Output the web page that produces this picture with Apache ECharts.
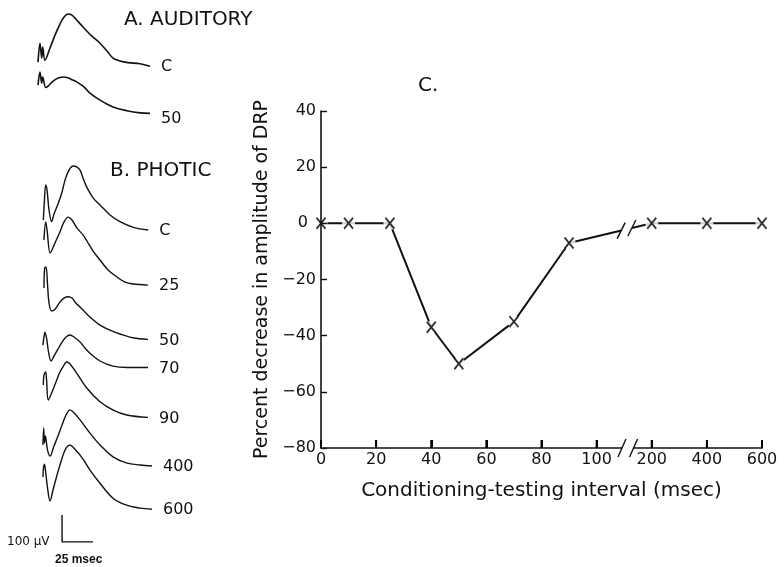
<!DOCTYPE html>
<html><head><meta charset="utf-8">
<script src="https://cdn.jsdelivr.net/npm/echarts@6/dist/echarts.min.js"></script>
<style>html,body{margin:0;padding:0;background:#fff}#c{width:784px;height:567px}</style>
</head><body><div id="c"></div>
<script>
// ---- Panel C data ----
const intervals = [0, 10, 25, 40, 50, 70, 90, 200, 400, 600];          // msec
const percentChange = [0, 0, 0, -37, -50, -35, -7, 0, 0, 0];            // %
const xTickLabels = ['0', '20', '40', '60', '80', '100', '200', '400', '600'];
const yTickLabels = ['\u221280', '\u221260', '\u221240', '\u221220', '0', '20', '40'];
// broken axis: real interval (msec) -> axis position
const breakMapReal = [0, 100, 200, 400, 600];
const breakMapPos  = [0, 100, 120, 140, 160];

// ---- Panels A/B traces: time (msec) and amplitude (microvolts, relative to trace start) ----
const audC_t  = [0, 1.6, 3.0, 3.8, 5.6, 9.7, 13.7, 17.7, 21.0, 24.2, 27.4, 30.6, 36.3, 43.5, 50.0, 55.6, 60.5, 66.1, 72.6, 82.3, 90.3];
const audC_uv = [0, 70, 15, 56, 7, 52, 100, 141, 167, 178, 174, 159, 130, 96, 70, 41, 15, 4, -2, -6, -15];
const aud50_t  = [0, 1.6, 3.0, 3.8, 6.2, 8.1, 11.3, 14.5, 17.7, 20.2, 23.4, 27.4, 31.5, 37.1, 41.9, 50.0, 60.5, 71.8, 82.3, 90.3];
const aud50_uv = [0, 48, 7, 30, -9, -4, 11, 22, 28, 30, 28, 20, 11, -7, -30, -56, -81, -95, -103, -105];
const phoC_t  = [4.3, 5.2, 6.2, 7.3, 8.9, 11.0, 12.9, 16.4, 19.4, 21.8, 25.0, 28.5, 31.5, 33.9, 36.3, 39.3, 44.6, 50.0, 58.1, 66.1, 76.9, 88.9];
const phoC_uv = [0, 74, 130, 111, 37, -6, 22, 63, 104, 148, 185, 200, 196, 185, 156, 122, 81, 56, 19, -6, -27, -37];
const pho25_t  = [4.8, 6.2, 7.3, 9.7, 11.3, 13.7, 17.7, 21.0, 24.4, 27.4, 31.5, 36.3, 39.5, 44.4, 50.0, 56.5, 63.7, 70.2, 76.6, 88.7];
const pho25_uv = [0, 67, 37, -48, -37, -11, 30, 67, 85, 74, 44, 19, -4, -41, -74, -111, -137, -156, -163, -167];
const pho50_t  = [4.8, 5.4, 6.5, 7.7, 8.9, 11.0, 13.7, 17.7, 21.0, 24.4, 27.4, 30.6, 33.9, 37.9, 41.9, 50.0, 58.1, 66.1, 76.6, 88.7];
const pho50_uv = [0, 74, 78, 11, -56, -85, -78, -52, -37, -32, -37, -56, -70, -89, -107, -137, -156, -170, -184, -190];
const pho70_t  = [4.0, 4.8, 5.6, 6.9, 8.5, 10.5, 12.9, 16.1, 19.4, 22.6, 25.8, 29.0, 33.9, 37.9, 41.9, 50.0, 60.5, 71.8, 88.7];
const pho70_uv = [0, 30, 48, 26, -26, -59, -41, -15, 11, 30, 37, 30, 11, -11, -30, -59, -78, -83, -83];
const pho90_t  = [4.3, 4.8, 6.2, 6.9, 8.3, 11.3, 14.5, 17.7, 21.0, 23.1, 25.8, 31.2, 39.3, 50.0, 60.7, 71.5, 88.7];
const pho90_uv = [0, 37, 48, 19, -56, -26, 11, 48, 74, 85, 78, 44, -11, -62, -93, -111, -120];
const pho400_t  = [4.0, 4.6, 5.2, 5.9, 7.7, 9.7, 12.9, 16.1, 19.4, 22.6, 25.8, 29.0, 33.9, 41.9, 50.0, 60.5, 71.8, 82.3, 91.9];
const pho400_uv = [0, 63, 7, 33, -19, -41, -4, 33, 74, 111, 130, 119, 93, 44, 0, -44, -67, -74, -78];
const pho600_t  = [4.0, 4.4, 5.2, 6.0, 7.7, 9.7, 12.1, 15.3, 19.4, 22.6, 25.8, 29.0, 35.2, 41.9, 50.0, 60.7, 71.5, 82.3, 91.9];
const pho600_uv = [0, 33, 48, 26, -41, -89, -48, 7, 70, 107, 119, 107, 74, 26, -23, -79, -104, -115, -119];
const traceLabels = ['C', '50', 'C', '25', '50', '70', '90', '400', '600'];
const scaleBarMsec = 25, scaleBarMicrovolt = 100;

// ---- layout (not data) ----
const traceBaselines = [-230, -315, -815, -889, -1067, -1278, -1426, -1648, -1767];
const traceSets = [[audC_t, audC_uv], [aud50_t, aud50_uv], [phoC_t, phoC_uv], [pho25_t, pho25_uv], [pho50_t, pho50_uv],
                   [pho70_t, pho70_uv], [pho90_t, pho90_uv], [pho400_t, pho400_uv], [pho600_t, pho600_uv]];
const scaleBarAnchor = [19.4, -2007];

function toAxisPos(v) {
  for (let i = 1; i < breakMapReal.length; i++) {
    if (v <= breakMapReal[i]) {
      const a = breakMapReal[i - 1], b = breakMapReal[i];
      return breakMapPos[i - 1] + (v - a) / (b - a) * (breakMapPos[i] - breakMapPos[i - 1]);
    }
  }
  return breakMapPos[breakMapPos.length - 1];
}

const FONT = 'DejaVu Sans';
const pts = intervals.map((v, i) => [toAxisPos(v), percentChange[i]]);

const traceSeries = traceSets.map((ts, k) => ({
  type: 'line', xAxisIndex: 1, yAxisIndex: 1, showSymbol: false, smooth: 0.35, silent: true,
  data: ts[0].map((t, i) => [t, ts[1][i] + traceBaselines[k]]),
  lineStyle: { color: '#111', width: k < 2 ? 1.6 : 1.4 },
  endLabel: { show: true, formatter: traceLabels[k], distance: 11, color: '#111', fontFamily: FONT, fontSize: 16,
              offset: k === 1 ? [0, 5] : [0, 1] }
}));

const chart = echarts.init(document.getElementById('c'), null, { renderer: 'canvas' });
chart.setOption({
  animation: false,
  backgroundColor: '#fff',
  grid: [
    { left: 321, top: 111, width: 441, height: 337, outerBoundsMode: 'none', containLabel: false },
    { left: 38, top: 0, width: 124, height: 567, outerBoundsMode: 'none', containLabel: false }
  ],
  xAxis: [
    { type: 'value', gridIndex: 0, min: 0, max: 160, interval: 20, z: 5,
      name: 'Conditioning-testing interval (msec)', nameLocation: 'middle', nameGap: 33,
      nameTextStyle: { fontFamily: FONT, fontSize: 20, color: '#111' },
      axisLine: { show: true, onZero: false, lineStyle: { color: '#111', width: 1.6 } },
      axisTick: { show: true, inside: true, length: 8, lineStyle: { color: '#000', width: 2 } },
      axisLabel: { show: true, margin: 4, fontFamily: FONT, fontSize: 16, color: '#111', showMinLabel: true, showMaxLabel: true,
                   formatter: v => xTickLabels[Math.round(v / 20)] },
      splitLine: { show: false } },
    { type: 'value', gridIndex: 1, min: 0, max: 100, show: false }
  ],
  yAxis: [
    { type: 'value', gridIndex: 0, min: -80, max: 40, interval: 20, z: 5,
      name: 'Percent decrease in amplitude of DRP', nameLocation: 'middle', nameGap: 32, nameRotate: 90,
      nameTextStyle: { fontFamily: FONT, fontSize: 19, color: '#111' },
      axisLine: { show: true, onZero: false, lineStyle: { color: '#111', width: 1.6 } },
      axisTick: { show: true, inside: true, length: 6, lineStyle: { color: '#111', width: 1.4 } },
      axisLabel: { show: true, margin: 5, fontFamily: FONT, fontSize: 16, color: '#111', showMinLabel: true, showMaxLabel: true,
                   formatter: v => { const s = yTickLabels[Math.round((v + 80) / 20)]; return v === 0 ? '{z|' + s + '}' : s; },
                   rich: { z: { fontFamily: FONT, fontSize: 16, color: '#111', padding: [0, 8, 0, 0] } } },
      splitLine: { show: false } },
    { type: 'value', gridIndex: 1, min: -2100, max: 0, show: false }
  ],
  series: [
    { type: 'line', xAxisIndex: 0, yAxisIndex: 0, data: pts, showSymbol: false, z: 2, silent: true,
      lineStyle: { color: '#111', width: 2 } },
    { type: 'scatter', xAxisIndex: 0, yAxisIndex: 0, data: pts, symbol: 'circle', symbolSize: 13, z: 3, silent: true,
      itemStyle: { color: '#fff' } },
    { type: 'scatter', xAxisIndex: 0, yAxisIndex: 0, data: pts, symbol: 'path://M0,0L10,12M10,0L0,12', symbolSize: [9, 11], z: 4, silent: true,
      itemStyle: { color: '#000', borderColor: '#000', borderWidth: 1.9 } },
    ...traceSeries,
    { type: 'line', xAxisIndex: 1, yAxisIndex: 1, showSymbol: false, silent: true,
      data: [[scaleBarAnchor[0], scaleBarAnchor[1] + scaleBarMicrovolt], scaleBarAnchor, [scaleBarAnchor[0] + scaleBarMsec, scaleBarAnchor[1]]],
      lineStyle: { color: '#111', width: 1.4 } }
  ]
});

// ---- annotations: panel titles, scale text, axis ticks and breaks ----
const P = (x, y) => chart.convertToPixel({ gridIndex: 0 }, [x, y]);
const lineY = pos => { // y of segment from 90 to 200 at axis position pos
  const a = pts[6], b = pts[7];
  return a[1] + (pos - a[0]) / (b[0] - a[0]) * (b[1] - a[1]);
};
const g = [];
// x ticks pointing up (inside), one per tick label
for (let i = 1; i < xTickLabels.length; i++) {
  const p = P(i * 20, -80);
  g.push({ type: 'rect', z: 102, shape: { x: p[0] - 1, y: p[1] - 8, width: 2, height: 8 }, style: { fill: '#000' } });
}
const bA = 108.9, bB = 112.8;
const lA = P(bA, lineY(bA)), lB = P(bB, lineY(bB));
const axA = P(bA + 0.3, -80), axB = P(bB + 0.6, -80);
g.push({ type: 'rect', z: 100, shape: { x: lA[0], y: lA[1] - 6, width: lB[0] - lA[0], height: 12 }, style: { fill: '#fff' } });
g.push({ type: 'rect', z: 100, shape: { x: axA[0], y: axA[1] - 4, width: axB[0] - axA[0], height: 8 }, style: { fill: '#fff' } });
[[lA, 8], [lB, 8], [axA, 9], [axB, 9]].forEach(([p, h]) => {
  g.push({ type: 'line', z: 101, shape: { x1: p[0] - 4, y1: p[1] + h, x2: p[0] + 4, y2: p[1] - h },
           style: { stroke: '#111', lineWidth: 1.4 } });
});
const txt = (t, x, y, fs, extra) => ({ type: 'text', z: 101, x, y,
  style: Object.assign({ text: t, fill: '#111', font: fs + 'px "' + FONT + '"', textVerticalAlign: 'middle' }, extra || {}) });
g.push(txt('A. AUDITORY', 124, 20, 20));
g.push(txt('B. PHOTIC', 110, 171, 20));
g.push(txt('C.', 418, 86, 20));
g.push(txt('100 \u00b5V', 7, 542, 12));
g.push(txt('25 msec', 55, 560, 12, { fontWeight: 'bold' }));
chart.setOption({ graphic: { elements: g } });
</script>
</body></html>
